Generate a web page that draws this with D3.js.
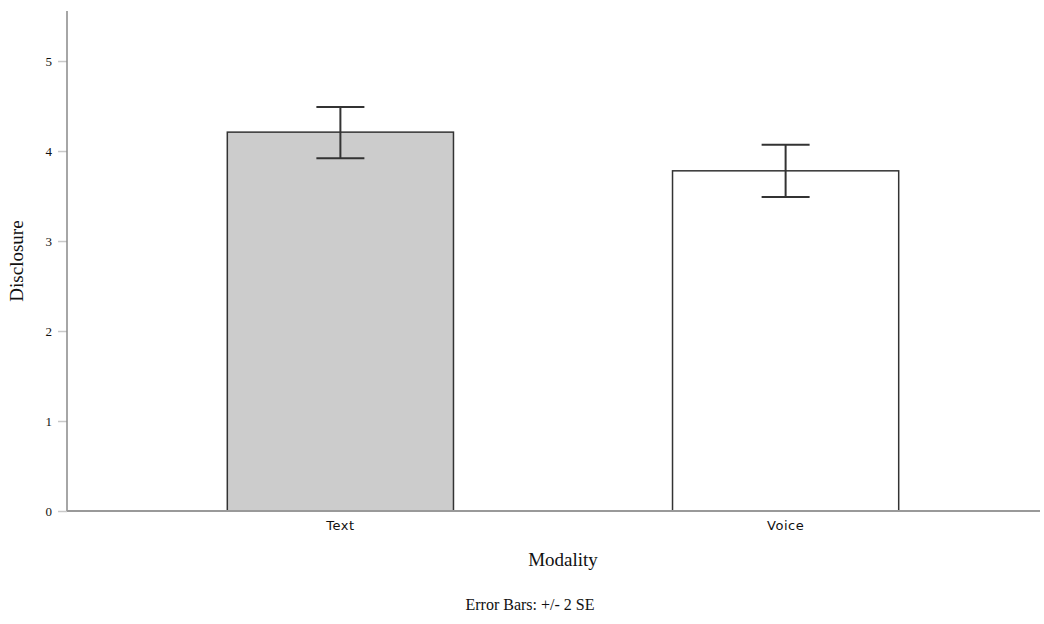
<!DOCTYPE html>
<html lang="en">
<head>
<meta charset="utf-8">
<title>Disclosure by Modality</title>
<script src="https://cdn.jsdelivr.net/npm/d3@7"></script>
<style>
    body {
      margin: 0;
      background: #fff;
    }

    .serif {
      font-family: "Liberation Serif", "DejaVu Serif", serif;
      fill: #111;
    }

    .cat text {
      font-family: "DejaVu Sans", sans-serif;
      font-size: 13px;
      fill: #111;
    }
</style>
</head>
<body>
<svg width="1044" height="624"></svg>
<script>
// chart values
var categories = ["Text", "Voice"];
var means = [4.21, 3.78];
var errLow = [3.92, 3.49];
var errHigh = [4.49, 4.07];
var fills = ["#cccccc", "#ffffff"];
var yTicks = [0, 1, 2, 3, 4, 5];

var svg = d3.select("svg");

var mLeft = 67, mRight = 1040, mTop = 11, mBottom = 511;

var y = d3.scaleLinear().domain([0, 5.556]).range([mBottom, mTop]);
var x = d3.scaleBand()
    .domain(categories)
    .range([116, 1010])
    .paddingInner(0.492)
    .paddingOuter(0.25);

// bars
svg.selectAll(".bar")
  .data(categories)
  .enter()
  .append("rect")
  .attr("class", "bar")
  .attr("x", function(d) { return x(d); })
  .attr("y", function(d, i) { return y(means[i]); })
  .attr("width", x.bandwidth())
  .attr("height", function(d, i) { return y(0) - y(means[i]); })
  .attr("fill", function(d, i) { return fills[i]; })
  .attr("stroke", "#333")
  .attr("stroke-width", 1.5);

// error bars
var capW = 24;
var eb = svg.selectAll(".err")
  .data(categories)
  .enter()
  .append("g")
  .attr("class", "err")
  .attr("stroke", "#333")
  .attr("stroke-width", 2);

eb.append("line")
  .attr("x1", function(d) { return x(d) + x.bandwidth() / 2; })
  .attr("x2", function(d) { return x(d) + x.bandwidth() / 2; })
  .attr("y1", function(d, i) { return y(errLow[i]); })
  .attr("y2", function(d, i) { return y(errHigh[i]); });

eb.append("line")
  .attr("x1", function(d) { return x(d) + x.bandwidth() / 2 - capW; })
  .attr("x2", function(d) { return x(d) + x.bandwidth() / 2 + capW; })
  .attr("y1", function(d, i) { return y(errHigh[i]); })
  .attr("y2", function(d, i) { return y(errHigh[i]); });

eb.append("line")
  .attr("x1", function(d) { return x(d) + x.bandwidth() / 2 - capW; })
  .attr("x2", function(d) { return x(d) + x.bandwidth() / 2 + capW; })
  .attr("y1", function(d, i) { return y(errLow[i]); })
  .attr("y2", function(d, i) { return y(errLow[i]); });

// y axis
var yAxis = svg.append("g")
  .attr("transform", "translate(" + mLeft + ",0)")
  .call(d3.axisLeft(y).tickValues(yTicks).tickSize(9).tickPadding(6).tickFormat(d3.format("d")));
yAxis.select(".domain").remove();
yAxis.selectAll(".tick line").attr("stroke", "#c8c8c8").attr("stroke-width", 1.5);
yAxis.selectAll(".tick text")
  .attr("class", "serif")
  .style("font-size", "13px");

svg.append("line")
  .attr("x1", mLeft).attr("x2", mLeft)
  .attr("y1", mTop).attr("y2", mBottom)
  .attr("stroke", "#888").attr("stroke-width", 1.5);

// x axis
var xAxis = svg.append("g")
  .attr("class", "cat")
  .attr("transform", "translate(0," + mBottom + ")")
  .call(d3.axisBottom(x).tickSize(0).tickPadding(10));
xAxis.select(".domain").remove();
xAxis.selectAll(".tick text").style("letter-spacing", "0.5px");

svg.append("line")
  .attr("x1", mLeft).attr("x2", mRight)
  .attr("y1", mBottom).attr("y2", mBottom)
  .attr("stroke", "#999").attr("stroke-width", 2);

// titles
svg.append("text")
  .attr("class", "serif")
  .attr("x", 563).attr("y", 566)
  .attr("text-anchor", "middle")
  .style("font-size", "19px")
  .text("Modality");

svg.append("text")
  .attr("class", "serif")
  .attr("transform", "translate(23,261) rotate(-90)")
  .attr("text-anchor", "middle")
  .style("font-size", "19px")
  .text("Disclosure");

svg.append("text")
  .attr("class", "serif")
  .attr("x", 530).attr("y", 610)
  .attr("text-anchor", "middle")
  .style("font-size", "16px")
  .text("Error Bars: +/- 2 SE");
</script>
</body>
</html>
